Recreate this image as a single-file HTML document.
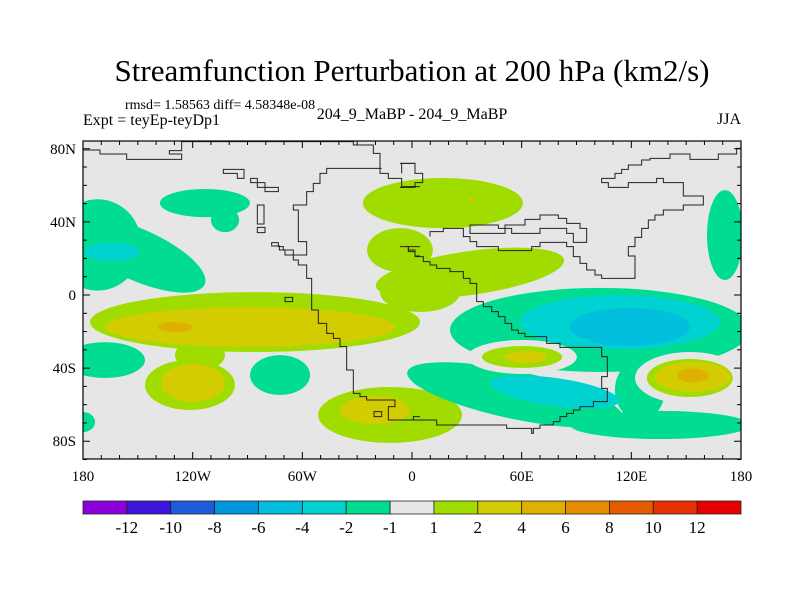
<!DOCTYPE html>
<html><head><meta charset="utf-8"><style>
body{margin:0;background:#fff;}
svg{display:block;font-family:"Liberation Serif",serif;}
</style></head><body>
<svg id="chart" width="800" height="600" viewBox="0 0 800 600">
<text x="412" y="81" font-size="31" text-anchor="middle">Streamfunction Perturbation at 200 hPa (km2/s)</text>
<text x="125" y="109" font-size="14">rmsd= 1.58563 diff= 4.58348e-08</text>
<text x="83" y="125" font-size="16">Expt = teyEp-teyDp1</text>
<text x="412" y="119" font-size="16" text-anchor="middle">204_9_MaBP - 204_9_MaBP</text>
<text x="741" y="124" font-size="16" text-anchor="end">JJA</text>
<defs><clipPath id="pc"><rect x="83" y="141" width="658" height="318"/></clipPath></defs>
<rect x="83" y="141" width="658" height="318" fill="#e6e6e6"/>
<g id="fills" clip-path="url(#pc)"></g>
<g clip-path="url(#pc)" fill="none" stroke="#222">
<g transform="translate(80,130) scale(0.33333)" stroke-width="3">
<path d="M10,60 H60 V72 H140 V88 H305 V72 H268 V62 H305 V35 H820 V45 H880 V70 H900 V130 H925 V145 H965 V170 H1020"/>
<path d="M965,130 V100 H1005 V130"/>
<path d="M430,118 H492 V145 H472 V130 H430Z"/>
<path d="M512,145 H532 V158 H555 V172 H595 V185 H555 V172 H532 V158 H512Z"/>
<path d="M532,225 H552 V282 H532Z M532,292 H555 V308 H532Z"/>
<path d="M905,115 H740 V130 H720 V160 H700 V185 H680 V225 H640 V240 H655 V335 H680 V375 H640 V360 H610 V350 H595 V338 H575 V348 H598 V360 H615 V375 H640 V390 H655 V405 H680 V445 H695 V540 H715 V580 H740 V610 H760 V625 H780 V650 H800 V720 H820 V790 H840 V800 H860 V810 H945 V830 H925 V870 H1000 V860 H1020"/>
<path d="M615,502 H638 V515 H615Z M882,845 H905 V860 H882Z"/>
<path d="M1020,350 H985 V365 H1005 V378 H1020"/>
</g>
<g transform="translate(400,130) scale(0.33333)" stroke-width="3">
<path d="M0,100 H45 V130 H68 V158 H45 V172 H0"/>
<path d="M0,350 H25 V360 H45 V380 H70 V395 H90 V405 H110 V415 H150 V425 H190 V445 H210 V460 H230 V515 H250 V530 H275 V545 H295 V560 H315 V580 H335 V600 H355 V610 H375 V620 H440 V640 H480 V652 H605 V680 H622 V740 H605 V775 H622 V815 H580 V830 H540 V840 H520 V850 H500 V860 H480 V875 H460 V885 H420 V895 H400 V910 H395 V895 H320 V885 H110 V870 H0"/>
<path d="M90,320 V305 H130 V295 H190 V320 H210 V335 H230 V350 H295 V362 H395 V350 H420 V337 H500 V350 H520 V380 H540 V400 H560 V420 H585 V435 H605 V445 H705 V378 H685 V350 H705 V322 H725 V295 H745 V270 H765 V255 H790 V240 H850 V225 H910 V198 H850 V158 H790 V145 H770 V158 H685 V172 H625 V158 H605 V145 H645 V130 H665 V118 H685 V105 H725 V90 H750 V85 H810 V72 H870 V88 H955 V72 H1010 V55 H1029"/>
<path d="M210,285 H295 V295 H315 V285 H375 V268 H420 V255 H475 V265 H500 V280 H540 V295 H560 V337 H520 V310 H500 V295 H420 V310 H335 V295 H315 V310 H210Z"/>
</g>
</g>
<g id="ticks" stroke="#000" stroke-width="1"></g>
<rect x="83" y="141" width="658" height="318" fill="none" stroke="#000" stroke-width="1.2"/>
<g id="labels" font-size="15"></g>
<g id="cbar"></g>
</svg>
<script>
const NS='http://www.w3.org/2000/svg';
const levelColors=['#8c00dc','#3c14dc','#1e5adc','#0096dc','#00bedc','#00d2d2','#00dc90','#e6e6e6','#a0dc00','#d2cc00','#e0b000','#e68c00','#e65a00','#e63200','#e60000'];
const levelLabels=['-12','-10','-8','-6','-4','-2','-1','1','2','4','6','8','10','12'];
const lonTicks=[-180,-120,-60,0,60,120,180];
const lonTickLabels=['180','120W','60W','0','60E','120E','180'];
const latTicks=[80,40,0,-40,-80];
const latTickLabels=['80N','40N','0','40S','80S'];
// contour blobs: centre lon, centre lat, radius lon, radius lat, rotation deg, colour-level index
const blobLon=[-172,-150,-164.1,-113.3,-102.3,-85.9,31.7,4.4,-116,-121.5,-88.6,-129.7,-119.8,-72.2,-168,-180,-12,-20.3,16.9,32.8,-6.6,102.8,56.3,135.6,124.7,113.8,119.2,78.2,152,152,153.7,153.7,60.2,60.2,62.3,171.2];
const blobLat=[27.4,22,23.5,50.3,41,-14.8,12,1.6,-32.8,-49.2,-17.5,-17.5,-48.1,-43.8,-35.6,-69.5,-65.6,-62.9,50.3,52,24.6,-19.1,-54.7,-71.1,-52,-14.8,-17.5,-53.1,-45.4,-45.4,-44.9,-44,-33.9,-33.9,-33.9,32.8];
const blobRLon=[24,40,15.3,24.6,7.7,90.3,52,21.9,13.7,24.6,79.3,9.8,17.5,16.4,21.9,6.6,39.4,19.1,43.8,2.2,18,82,60.2,49.2,13.7,54.7,32.8,35.6,30,23.5,20.8,8.8,30,21.9,11.5,9.8];
const blobRLat=[25,14,4.9,7.7,6.6,16.4,12,10.9,8.2,13.7,10.9,2.7,10.4,10.9,9.8,5.5,15.3,7.7,13.7,1.1,12,23,13.1,7.7,16.4,14.8,10.4,7.7,14.2,10.4,8.2,3.8,9.3,6,3.3,24.6];
const blobRot=[0,24,0,0,0,0,-8,0,0,0,0,0,0,0,0,0,0,0,0,0,0,0,12,0,0,0,0,8,0,0,0,0,0,0,0,0];
const blobLevel=[6,6,5,6,6,8,8,8,8,8,9,10,9,6,6,6,8,9,8,9,8,6,6,6,6,5,4,5,7,8,9,10,7,8,9,6];
const X0=83,X1=741,PX=658/360;
function xS(lon){return X0+(lon+180)*PX;}
function yS(lat){return 295-lat*1.828;}
const fills=document.getElementById('fills');
for(let i=0;i<blobLon.length;i++){
  const e=document.createElementNS(NS,'ellipse');
  const cx=xS(blobLon[i]),cy=yS(blobLat[i]);
  e.setAttribute('cx',cx);e.setAttribute('cy',cy);
  e.setAttribute('rx',blobRLon[i]*PX);e.setAttribute('ry',blobRLat[i]*1.828);
  e.setAttribute('transform','rotate('+blobRot[i]+' '+cx+' '+cy+')');
  e.setAttribute('fill',levelColors[blobLevel[i]]);
  
  
  fills.appendChild(e);
}
const ticks=document.getElementById('ticks'),labels=document.getElementById('labels');
function line(x1,y1,x2,y2){const l=document.createElementNS(NS,'line');l.setAttribute('x1',x1);l.setAttribute('y1',y1);l.setAttribute('x2',x2);l.setAttribute('y2',y2);ticks.appendChild(l);}
for(let lon=-180;lon<=180;lon+=10){const x=xS(lon),len=(lon%60===0)?7:4;line(x,459,x,459-len);line(x,141,x,141+len);}
for(let lat=-90;lat<=80;lat+=10){const y=yS(lat);if(y<141)continue;const len=(lat%40===0)?7:4;line(83,y,83+len,y);line(741,y,741-len,y);}
for(let i=0;i<lonTicks.length;i++){const t=document.createElementNS(NS,'text');t.setAttribute('x',xS(lonTicks[i]));t.setAttribute('y',481);t.setAttribute('text-anchor','middle');t.textContent=lonTickLabels[i];


labels.appendChild(t);}
for(let i=0;i<latTicks.length;i++){const t=document.createElementNS(NS,'text');t.setAttribute('x',76);t.setAttribute('y',yS(latTicks[i])+5);t.setAttribute('text-anchor','end');t.textContent=latTickLabels[i];


labels.appendChild(t);}
const cb=document.getElementById('cbar');const bw=658/levelColors.length;
for(let i=0;i<levelColors.length;i++){const r=document.createElementNS(NS,'rect');r.setAttribute('x',83+i*bw);r.setAttribute('y',501);r.setAttribute('width',bw);r.setAttribute('height',13);r.setAttribute('fill',levelColors[i]);r.setAttribute('stroke','#222');r.setAttribute('stroke-width','0.8');


cb.appendChild(r);}
for(let i=0;i<levelLabels.length;i++){const t=document.createElementNS(NS,'text');t.setAttribute('x',83+(i+1)*bw);t.setAttribute('y',533);t.setAttribute('text-anchor','middle');t.setAttribute('font-size','17');t.textContent=levelLabels[i];


cb.appendChild(t);}
</script>
</body></html>
